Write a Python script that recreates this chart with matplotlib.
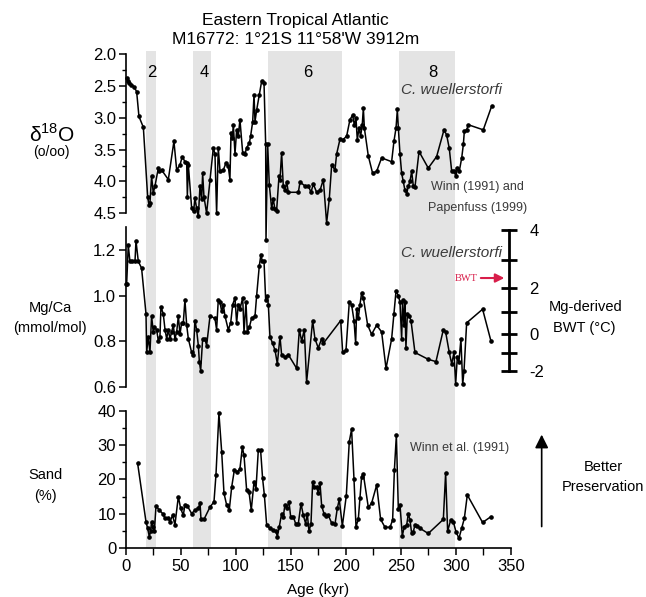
import numpy as np
import matplotlib
matplotlib.use("Agg")
import matplotlib.pyplot as plt
from matplotlib.ticker import MultipleLocator, FixedLocator

plt.rcParams['font.family'] = ['Liberation Sans', 'DejaVu Sans']
plt.rcParams['mathtext.fontset'] = 'custom'
plt.rcParams['mathtext.rm'] = 'Liberation Sans'
plt.rcParams['axes.unicode_minus'] = False

# benthic d18O (C. wuellerstorfi)
d18o_age = [0.6, 1.5, 3.0, 5.0, 7.5, 9.7, 11.8, 15.8, 19.7, 20.9,
            21.8, 23.3, 24.8, 26.4, 29.4, 30.3, 32.4, 38.5, 43.6, 46.1,
            49.1, 51.2, 53.6, 55.2, 55.8, 56.7, 59.7, 61.5, 62.7, 64.2,
            65.8, 67.3, 68.8, 69.7, 70.9, 73.3, 76.4, 79.4, 80.9, 82.4,
            83.9, 85.5, 88.5, 90.9, 93.0, 94.5, 95.5, 96.7, 97.6, 99.1,
            100.6, 102.1, 103.6, 106.1, 108.2, 109.7, 112.1, 113.3, 115.2, 116.4,
            117.3, 118.8, 121.2, 123.3, 125.5, 127.0, 127.3, 128.8, 130.3, 132.4,
            133.9, 135.5, 136.9, 139.1, 140.0, 141.5, 143.0, 144.5, 146.1, 147.6,
            156.7, 158.2, 162.7, 165.8, 168.2, 170.3, 173.3, 176.4, 179.4, 182.4,
            184.8, 187.0, 190.0, 191.5, 194.5, 196.9, 200.6, 203.6, 206.0, 207.6,
            209.1, 210.3, 211.8, 213.3, 214.8, 215.8, 216.7, 220.3, 224.2, 227.9,
            232.4, 241.5, 243.6, 245.5, 246.7, 247.6, 249.1, 250.6, 252.1, 253.6,
            255.2, 256.7, 258.2, 259.7, 261.2, 262.7, 266.4, 274.8, 282.4, 289.1,
            291.5, 293.9, 296.1, 298.2, 300.0, 301.2, 303.0, 305.2, 306.7, 307.6,
            309.7, 311.2, 324.8, 332.4]
d18o = [2.38, 2.42, 2.45, 2.48, 2.52, 2.59, 2.98, 3.15, 4.24, 4.37,
        4.34, 3.92, 4.18, 4.07, 3.79, 3.84, 3.82, 3.97, 3.37, 3.82,
        3.74, 3.61, 3.69, 3.71, 4.24, 3.74, 4.42, 4.47, 4.26, 4.42,
        4.55, 4.07, 4.28, 3.87, 4.24, 4.50, 3.97, 3.47, 3.57, 4.50,
        3.47, 3.84, 3.82, 3.71, 3.76, 3.97, 3.24, 3.32, 3.11, 3.57,
        3.19, 3.29, 3.03, 3.55, 3.57, 3.47, 3.40, 3.29, 3.06, 2.64,
        3.06, 2.88, 2.64, 2.43, 2.46, 3.42, 4.92, 3.42, 4.05, 4.42,
        4.28, 4.44, 4.47, 3.92, 3.97, 3.55, 4.07, 4.14, 4.01, 4.17,
        4.17, 4.01, 4.07, 4.07, 4.17, 4.04, 4.17, 4.14, 3.97, 4.65,
        4.28, 3.74, 3.82, 3.57, 3.34, 3.35, 3.29, 3.03, 2.96, 3.11,
        3.01, 3.35, 3.16, 3.29, 3.11, 2.85, 3.16, 3.60, 3.87, 3.84,
        3.63, 3.69, 3.37, 3.16, 2.87, 3.16, 3.57, 3.87, 4.00, 4.14,
        4.19, 4.07, 4.00, 3.84, 4.07, 4.09, 3.53, 3.79, 3.61, 3.19,
        3.27, 3.48, 3.84, 3.84, 3.92, 3.79, 3.84, 3.63, 3.42, 3.21,
        3.19, 3.11, 3.19, 2.82]

# Mg/Ca (mmol/mol)
mgca_age = [0, 0.6, 2.1, 3.6, 5.2, 8.2, 9.1, 11.2, 14.2, 18.2,
            18.8, 20.3, 21.8, 23.3, 24.8, 25.8, 27.9, 29.4, 30.9, 31.8,
            33.9, 35.5, 37.0, 38.5, 40.0, 41.5, 43.0, 44.5, 46.1, 47.6,
            49.1, 50.6, 52.1, 53.6, 55.2, 56.7, 59.7, 61.2, 62.7, 64.2,
            65.8, 66.7, 67.9, 69.7, 71.8, 73.3, 76.4, 80.9, 82.4, 83.9,
            85.5, 87.0, 88.5, 90.0, 93.0, 95.2, 97.0, 99.1, 100.6, 102.1,
            103.6, 106.1, 107.3, 109.1, 110.3, 112.1, 114.2, 117.3, 118.8, 121.2,
            122.7, 123.9, 125.5, 127.0, 128.5, 129.4, 130.9, 133.3, 135.5, 137.6,
            140.0, 141.5, 144.5, 147.6, 155.2, 157.6, 159.7, 162.1, 164.2, 169.7,
            171.8, 174.8, 177.9, 179.4, 195.2, 197.0, 200.0, 203.0, 205.1, 207.3,
            208.8, 209.7, 211.2, 212.7, 214.2, 215.8, 219.7, 223.3, 227.9, 232.4,
            236.4, 241.5, 243.6, 245.5, 247.6, 249.1, 250.6, 251.5, 252.7, 253.6,
            254.5, 255.8, 257.6, 259.1, 262.7, 274.8, 281.8, 288.5, 290.6, 293.9,
            296.1, 298.2, 299.7, 301.2, 302.7, 304.5, 306.1, 307.3, 309.7, 324.2,
            331.8]
mgca = [1.05, 1.05, 1.22, 1.15, 1.15, 1.15, 1.24, 1.15, 1.12, 0.92,
        0.75, 0.82, 0.75, 0.91, 0.84, 0.86, 0.85, 0.80, 0.82, 0.95,
        0.92, 0.85, 0.81, 0.85, 0.81, 0.84, 0.87, 0.81, 0.84, 0.91,
        0.83, 0.88, 0.88, 0.98, 0.87, 0.81, 0.75, 0.74, 0.89, 0.85,
        0.78, 0.71, 0.67, 0.81, 0.81, 0.78, 0.91, 0.90, 0.85, 0.98,
        0.97, 0.93, 0.96, 0.91, 0.85, 0.88, 0.96, 0.99, 0.88, 0.96,
        0.94, 0.99, 0.84, 0.97, 0.84, 0.86, 0.90, 0.91, 1.00, 1.13,
        1.18, 1.15, 1.15, 0.98, 1.00, 0.96, 0.82, 0.79, 0.76, 0.70,
        0.82, 0.74, 0.73, 0.74, 0.68, 0.85, 0.80, 0.85, 0.62, 0.89,
        0.81, 0.77, 0.81, 0.79, 0.89, 0.75, 0.76, 0.97, 0.96, 0.89,
        0.79, 0.94, 0.90, 0.96, 1.01, 0.99, 0.87, 0.83, 0.87, 0.84,
        0.68, 0.81, 0.92, 1.02, 1.00, 0.97, 0.81, 0.98, 0.87, 0.97,
        0.77, 0.92, 0.91, 0.89, 0.75, 0.72, 0.71, 0.85, 0.84, 0.75,
        0.70, 0.75, 0.61, 0.73, 0.71, 0.81, 0.61, 0.67, 0.88, 0.94,
        0.80]

# sand fraction (%)
sand_age = [10.6, 18.2, 19.7, 21.2, 22.4, 23.3, 24.8, 25.8, 27.3, 30.3,
            33.3, 35.5, 38.5, 40.0, 42.4, 44.5, 47.6, 49.7, 52.1, 53.6,
            55.8, 59.7, 62.7, 65.8, 67.3, 68.2, 70.9, 76.4, 80.0, 81.8,
            84.5, 87.0, 89.1, 91.5, 93.9, 96.1, 98.5, 101.2, 103.6, 105.8,
            107.3, 109.7, 111.8, 113.9, 116.4, 118.2, 120.3, 122.4, 124.2, 125.8,
            127.9, 130.9, 133.9, 136.4, 137.6, 139.4, 141.5, 143.0, 144.5, 146.1,
            148.2, 149.7, 152.1, 154.2, 156.7, 159.1, 161.2, 163.3, 164.8, 166.4,
            168.2, 169.7, 171.2, 173.3, 174.8, 176.4, 177.9, 180.0, 181.8, 183.9,
            186.9, 190.0, 192.1, 193.9, 196.7, 200.3, 203.0, 205.1, 207.3, 209.1,
            211.2, 212.7, 214.2, 215.8, 220.3, 223.3, 227.9, 231.5, 235.5, 240.0,
            242.4, 244.0, 245.8, 247.6, 249.1, 251.2, 253.0, 255.2, 256.7, 258.2,
            259.7, 261.2, 262.7, 264.8, 267.3, 274.8, 288.5, 290.6, 292.4, 295.2,
            297.6, 300.0, 302.7, 305.2, 307.6, 310.3, 324.2, 331.8]
sand = [24.7, 7.7, 5.8, 3.4, 4.9, 7.7, 6.3, 4.9, 12.3, 11.1,
        10.1, 8.7, 8.7, 7.7, 9.6, 6.8, 15.0, 11.6, 9.6, 12.6,
        12.3, 10.1, 11.1, 11.6, 13.3, 8.4, 8.4, 12.0, 13.5, 21.3,
        39.2, 28.1, 16.0, 12.6, 11.1, 17.8, 22.7, 22.2, 23.1, 29.4,
        27.0, 16.9, 16.5, 11.1, 19.3, 17.3, 28.5, 28.5, 20.3, 15.5,
        6.8, 5.8, 5.3, 4.9, 3.4, 6.3, 10.1, 9.2, 12.6, 11.6,
        13.5, 9.2, 9.2, 7.2, 7.2, 13.0, 9.6, 7.2, 10.1, 4.9,
        7.2, 19.3, 17.9, 17.9, 16.0, 18.9, 12.3, 10.1, 9.4, 9.6,
        7.4, 7.0, 11.6, 14.2, 6.5, 15.3, 31.0, 34.6, 20.0, 6.3,
        8.4, 14.5, 20.8, 21.5, 11.9, 13.1, 18.4, 8.4, 6.1, 6.1,
        8.2, 22.7, 32.9, 11.3, 12.6, 3.6, 6.3, 6.8, 10.1, 8.2,
        4.3, 4.8, 6.8, 6.6, 5.8, 4.3, 8.4, 21.9, 5.0, 8.2,
        7.7, 4.8, 2.9, 5.8, 8.7, 15.5, 7.5, 9.2]

# glacial stages (even MIS)
mis_labels = ["2", "4", "6", "8"]
mis_start = [18.5, 60.5, 129.5, 248.5]
mis_end = [27.5, 77.0, 196.0, 299.5]
mis_label_x = [23.5, 71.5, 165, 279]

# Mg/Ca -> bottom water temperature
mg_a, mg_b = 0.832, 0.109
bwt_major = [-2, 0, 2, 4]
bwt_minor = [-1, 1, 3]


def mg_to_t(m):
    return np.log(np.clip(m, 1e-6, None) / mg_a) / mg_b


def t_to_mg(t):
    return mg_a * np.exp(mg_b * t)


fig = plt.figure(figsize=(6.46, 5.97), dpi=100)

L, W = 0.195, 0.596
bg = fig.add_axes([L, 0.0816, W, 0.833])
ax1 = fig.add_axes([L, 0.6427, W, 0.2668])
ax2 = fig.add_axes([L, 0.3523, W, 0.2672])
ax3 = fig.add_axes([L, 0.0816, W, 0.2305])

for a in (bg, ax1, ax2, ax3):
    a.set_xlim(0, 350)
    a.patch.set_visible(False)

bg.set_ylim(0, 1)
bg.axis('off')
for s, e in zip(mis_start, mis_end):
    bg.axvspan(s, e, color='#e4e4e4', lw=0)

line_kw = dict(color='black', lw=1.1, marker='o', ms=2.3, clip_on=False)

# d18O
ax1.plot(d18o_age, d18o, **line_kw)
ax1.set_ylim(4.5, 2.0)
ax1.yaxis.set_major_locator(MultipleLocator(0.5))
ax1.yaxis.set_minor_locator(MultipleLocator(0.25))
ax1.yaxis.set_major_formatter(matplotlib.ticker.FormatStrFormatter('%.1f'))

# Mg/Ca
ax2.plot(mgca_age, mgca, **line_kw)
ax2.set_ylim(0.6, 1.3)
ax2.yaxis.set_major_locator(FixedLocator([0.6, 0.8, 1.0, 1.2]))
ax2.yaxis.set_major_formatter(matplotlib.ticker.FormatStrFormatter('%.1f'))

# sand
ax3.plot(sand_age, sand, **line_kw)
ax3.set_ylim(0, 40)
ax3.yaxis.set_major_locator(MultipleLocator(10))
ax3.yaxis.set_minor_locator(MultipleLocator(5))
ax3.xaxis.set_major_locator(MultipleLocator(50))
ax3.xaxis.set_minor_locator(MultipleLocator(25))

for a in (ax1, ax2, ax3):
    for sp in ('top', 'right'):
        a.spines[sp].set_visible(False)
    a.spines['left'].set_linewidth(1.2)
    a.tick_params(axis='y', which='major', direction='out', length=5,
                  width=1.1, labelsize=12, pad=2)
    a.tick_params(axis='y', which='minor', direction='out', length=3, width=1)
for a in (ax1, ax2):
    a.spines['bottom'].set_visible(False)
    a.tick_params(axis='x', which='both', bottom=False, labelbottom=False)
ax3.spines['bottom'].set_linewidth(1.2)
ax3.tick_params(axis='x', which='major', direction='out', length=5,
                width=1.1, labelsize=12, pad=3)
ax3.tick_params(axis='x', which='minor', direction='out', length=5, width=1)

# temperature scale on the Mg/Ca panel
sec = ax2.secondary_yaxis(0.9957, functions=(mg_to_t, t_to_mg))
sec.spines['right'].set_linewidth(2)
sec.spines['right'].set_bounds(-2, 4)
sec.yaxis.set_major_locator(FixedLocator(bwt_major))
sec.yaxis.set_minor_locator(FixedLocator(bwt_minor))
sec.tick_params(which='both', direction='inout', length=11, width=2,
                labelsize=12, pad=9)

# text
fig.text(0.458, 0.966, "Eastern Tropical Atlantic", ha='center', va='center',
         fontsize=12.5)
fig.text(0.458, 0.933, "M16772: 1°21S 11°58'W 3912m", ha='center',
         va='center', fontsize=12.5)
for lab, x in zip(mis_labels, mis_label_x):
    bg.text(x, 0.956, lab, ha='center', va='center', fontsize=12)

fig.text(0.080, 0.774, r"δ$^{18}$O", ha='center', va='center', fontsize=15)
fig.text(0.080, 0.745, "(o/oo)", ha='center', va='center', fontsize=10)
fig.text(0.0774, 0.484, "Mg/Ca", ha='center', va='center', fontsize=10.5)
fig.text(0.0774, 0.451, "(mmol/mol)", ha='center', va='center', fontsize=10.5)
fig.text(0.0697, 0.204, "Sand", ha='center', va='center', fontsize=10.5)
fig.text(0.0697, 0.169, "(%)", ha='center', va='center', fontsize=10.5)
fig.text(0.9066, 0.486, "Mg-derived", ha='center', va='center', fontsize=10.5)
fig.text(0.904, 0.451, "BWT (°C)", ha='center', va='center', fontsize=10.5)
fig.text(0.934, 0.218, "Better", ha='center', va='center', fontsize=10.5)
fig.text(0.934, 0.185, "Preservation", ha='center', va='center', fontsize=10.5)
fig.text(0.492, 0.012, "Age (kyr)", ha='center', va='center', fontsize=11)

grey = '#3a3a3a'
fig.text(0.7766, 0.849, "C. wuellerstorfi", ha='right', va='center',
         fontsize=11, style='italic', color=grey)
fig.text(0.7766, 0.576, "C. wuellerstorfi", ha='right', va='center',
         fontsize=11, style='italic', color=grey)
fig.text(0.739, 0.687, "Winn (1991) and", ha='center', va='center',
         fontsize=9, color=grey)
fig.text(0.739, 0.651, "Papenfuss (1999)", ha='center', va='center',
         fontsize=9, color=grey)
fig.text(0.712, 0.249, "Winn et al. (1991)", ha='center', va='center',
         fontsize=9, color=grey)

red = '#d81e4a'
fig.text(0.740, 0.5343, "BWT", ha='right', va='center', fontsize=7.5,
         color=red, family='Liberation Serif')
fig.add_artist(matplotlib.patches.FancyArrowPatch(
    (0.740, 0.5343), (0.785, 0.5343), transform=fig.transFigure,
    arrowstyle='-|>', mutation_scale=13, color=red, lw=1.5))

fig.add_artist(matplotlib.patches.FancyArrowPatch(
    (0.8385, 0.118), (0.8385, 0.272), transform=fig.transFigure,
    arrowstyle='-|>', mutation_scale=20, color='black', lw=1.2,
    shrinkA=0, shrinkB=0))

fig.savefig("out.png", dpi=100)
